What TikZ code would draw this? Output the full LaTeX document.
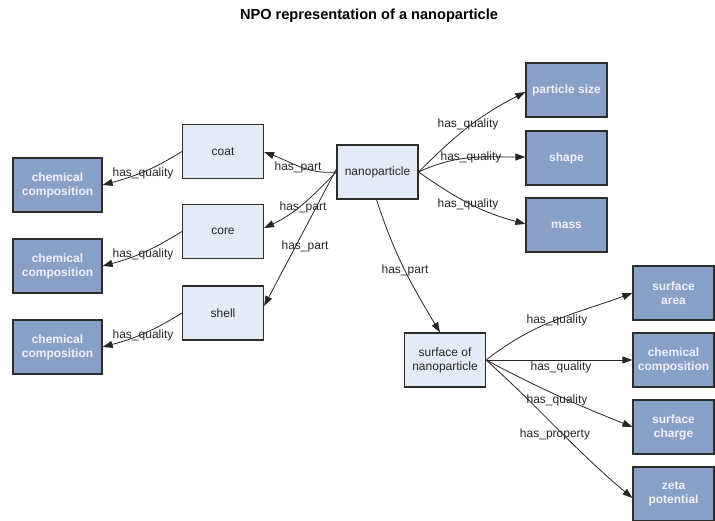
\documentclass[tikz,border=0pt]{standalone}
\usepackage{fontspec}
\setmainfont{Liberation Sans}
\usetikzlibrary{arrows.meta}
\definecolor{lightbox}{RGB}{228,234,246}
\definecolor{darkbox}{RGB}{137,160,198}
\definecolor{edgegray}{RGB}{45,45,45}
\tikzset{
  classbox/.style={draw=edgegray, line width=1.2pt, fill=lightbox, minimum width=81pt, minimum height=54pt,
    inner sep=0pt, align=center, font=\fontsize{12}{14}\selectfont, text=black!85},
  qualbox/.style={draw=edgegray, line width=1.2pt, fill=darkbox, minimum width=89pt, minimum height=54pt,
    inner sep=0pt, align=center, font=\fontsize{12}{14}\selectfont\bfseries, text=white!94!blue},
  qualboxr/.style={qualbox, minimum width=81pt},
  rel/.style={draw=black!85, line width=0.8pt, -{Triangle[length=10pt,width=7pt]}},
  rellabel/.style={font=\fontsize{12}{14}\selectfont, text=black!85, inner sep=0pt}
}
\begin{document}
\begin{tikzpicture}[x=1pt,y=-1pt]
\useasboundingbox (0,0) rectangle (715,521);

\node[font=\fontsize{14.6}{17}\selectfont\bfseries] (title) at (369,16) {NPO representation of a nanoparticle};

% central part and its components
\node[classbox] (nano) at (377.5,172) {nanoparticle};
\node[classbox] (coat) at (223,151.5) {coat};
\node[classbox] (core) at (223,231.5) {core};
\node[classbox] (shell) at (223,313) {shell};
\node[classbox] (surf) at (445,360) {surface of\\nanoparticle};

% qualities
\node[qualbox] (chemA) at (57.5,185) {chemical\\composition};
\node[qualbox] (chemB) at (57.5,266) {chemical\\composition};
\node[qualbox] (chemC) at (57.5,347) {chemical\\composition};
\node[qualboxr] (psize) at (566.5,90) {particle size};
\node[qualboxr] (shape) at (566.5,158) {shape};
\node[qualboxr] (mass) at (566.5,225) {mass};
\node[qualboxr] (sarea) at (673.5,293) {surface\\area};
\node[qualboxr] (schem) at (673.5,360) {chemical\\composition};
\node[qualboxr] (scharge) at (673.5,427) {surface\\charge};
\node[qualboxr] (zeta) at (673.5,494) {zeta\\potential};

% has_part relations
\draw[rel] (nano.west) to[out=185,in=-20] (coat.east |- 0,152);
\draw[rel] (nano.west) to[out=225,in=25] (core.east |- 0,228);
\draw[rel] ([yshift=3pt]nano.west) -- (shell.east |- 0,306);
\draw[rel] ([xshift=-1pt]nano.south) to[out=-72,in=121] ([xshift=-5pt]surf.north);

% has_quality relations of the components
\draw[rel] (coat.west) to[out=212,in=15] (chemA.east);
\draw[rel] (core.west) to[out=212,in=15] (chemB.east);
\draw[rel] (shell.west) to[out=212,in=15] (chemC.east);

% qualities of the nanoparticle
\draw[rel] (nano.east) to[out=45,in=207] (psize.west |- 0,92);
\draw[rel] (nano.east) to[out=25,in=180] (shape.west |- 0,157);
\draw[rel] (nano.east) to[out=-35,in=165] (mass.west |- 0,224);

% qualities of the surface
\draw[rel] (surf.east) to[out=38,in=200] (sarea.west);
\draw[rel] (surf.east) -- (schem.west);
\draw[rel] (surf.east) to[out=-28,in=158] (scharge.west);
\draw[rel] (surf.east) to[out=-42,in=140] ([yshift=-4pt]zeta.west);

% relation labels
\node[rellabel] (lq1) at (143,173) {has\_quality};
\node[rellabel] (lq2) at (143,254) {has\_quality};
\node[rellabel] (lq3) at (143,335) {has\_quality};
\node[rellabel] (lp1) at (298,167) {has\_part};
\node[rellabel] (lp2) at (303,207) {has\_part};
\node[rellabel] (lp3) at (305,246) {has\_part};
\node[rellabel] (lq4) at (468,124) {has\_quality};
\node[rellabel] (lq5) at (471,157) {has\_quality};
\node[rellabel] (lq6) at (468,204) {has\_quality};
\node[rellabel] (lp4) at (405,270) {has\_part};
\node[rellabel] (lq7) at (557,320) {has\_quality};
\node[rellabel] (lq8) at (561,367) {has\_quality};
\node[rellabel] (lq9) at (557,400) {has\_quality};
\node[rellabel] (lpr) at (555,434) {has\_property};
\end{tikzpicture}
\end{document}
